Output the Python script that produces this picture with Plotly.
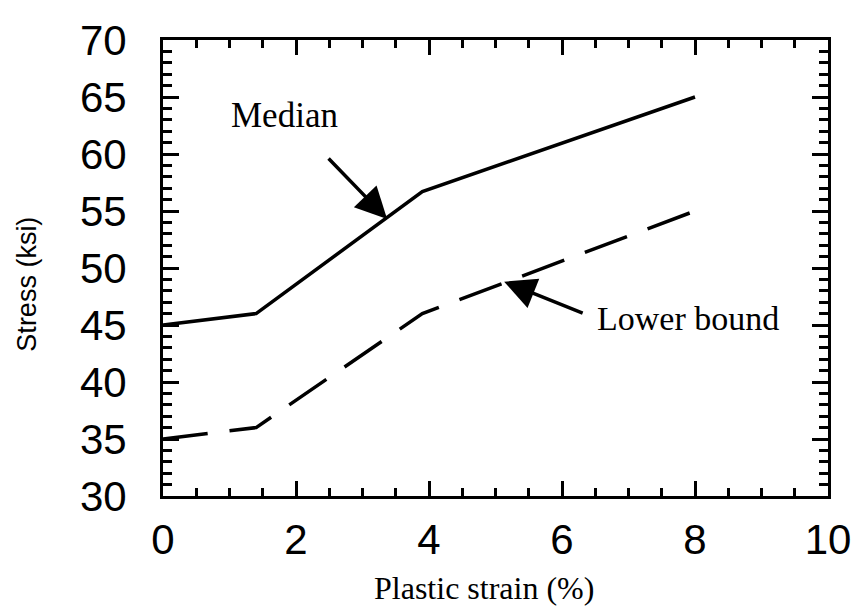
import plotly.graph_objects as go

# Data
strain_median = [0, 1.4, 3.9, 8]
stress_median = [45, 46, 56.7, 65]
strain_lower = [0, 1.4, 3.9, 8]
stress_lower = [35, 36, 46, 55]

x_ticks = [0, 2, 4, 6, 8, 10]
y_ticks = [30, 35, 40, 45, 50, 55, 60, 65, 70]

fig = go.Figure()
fig.add_trace(go.Scatter(x=strain_median, y=stress_median, mode="lines",
                         line=dict(color="black", width=3.5), name="Median",
                         showlegend=False))
fig.add_trace(go.Scatter(x=strain_lower, y=stress_lower, mode="lines",
                         line=dict(color="black", width=3.5, dash="45px,22px"),
                         name="Lower bound", showlegend=False))

tick_font = dict(family="Liberation Sans, Arial, sans-serif", size=42, color="black")
serif = "Liberation Serif, Times New Roman, serif"

fig.update_xaxes(range=[0, 10], tickvals=x_ticks, ticktext=[str(v) for v in x_ticks],
                 showgrid=False, zeroline=False, showline=True, linewidth=3, linecolor="black",
                 mirror="allticks", ticks="inside", ticklen=15, tickwidth=2.5, tickcolor="black",
                 tickfont=tick_font, ticklabelstandoff=5,
                 minor=dict(ticks="inside", dtick=0.5, ticklen=8, tickwidth=2.5, tickcolor="black", showgrid=False))
fig.update_yaxes(range=[30, 70], tickvals=y_ticks, ticktext=[str(v) for v in y_ticks],
                 showgrid=False, zeroline=False, showline=True, linewidth=3, linecolor="black",
                 mirror="allticks", ticks="inside", ticklen=16, tickwidth=2.5, tickcolor="black",
                 tickfont=tick_font, ticklabelstandoff=25,
                 minor=dict(ticks="inside", dtick=1, ticklen=9, tickwidth=2.5, tickcolor="black", showgrid=False))

annotations = [
    # axis titles
    dict(text="Plastic strain (%)", xref="paper", yref="paper", x=0.483, y=-0.202,
         showarrow=False, xanchor="center", yanchor="middle",
         font=dict(family=serif, size=32, color="black")),
    dict(text="Stress (ksi)", xref="paper", yref="paper", x=-0.205, y=0.465,
         showarrow=False, textangle=-90, xanchor="center", yanchor="middle",
         font=dict(family="Liberation Sans, Arial, sans-serif", size=27, color="black")),
    # labels
    dict(text="Median", xref="x", yref="y", x=1.83, y=63.4, showarrow=False,
         xanchor="center", yanchor="middle", font=dict(family=serif, size=35, color="black")),
    dict(text="Lower bound", xref="x", yref="y", x=6.5, y=45.6, showarrow=False,
         xanchor="left", yanchor="middle", font=dict(family=serif, size=34, color="black")),
    # arrows
    dict(text="", xref="x", yref="y", x=3.37, y=54.3, ax=-60, ay=-62, showarrow=True,
         arrowhead=2, arrowsize=1.8, arrowwidth=3.5, arrowcolor="black", standoff=0),
    dict(text="", xref="x", yref="y", x=5.13, y=48.8, ax=80, ay=32, showarrow=True,
         arrowhead=2, arrowsize=1.8, arrowwidth=3.5, arrowcolor="black", standoff=0),
]

fig.update_layout(width=863, height=612, autosize=False,
                  margin=dict(l=163, r=27, t=40, b=116),
                  plot_bgcolor="white", paper_bgcolor="white",
                  annotations=annotations, showlegend=False)

fig.write_html("out.html")
